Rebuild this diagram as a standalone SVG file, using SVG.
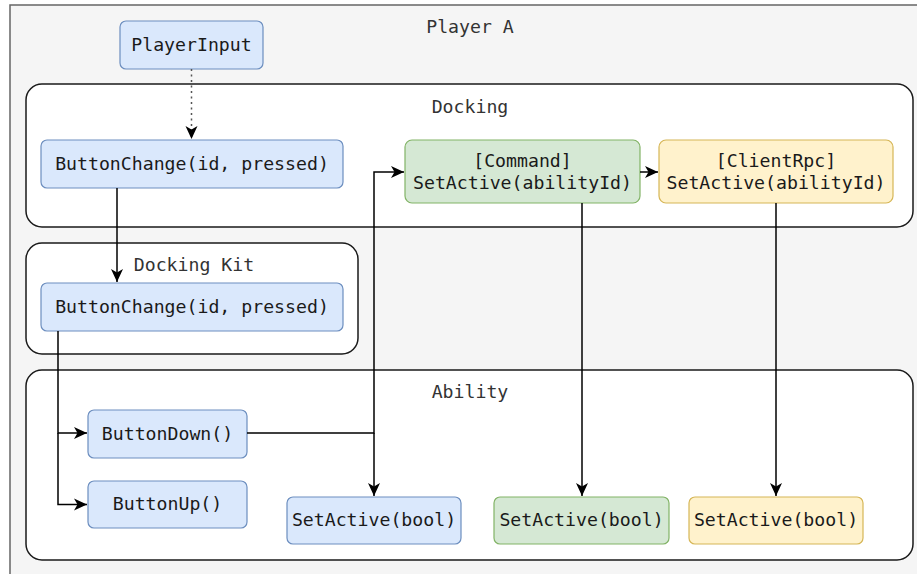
<svg xmlns="http://www.w3.org/2000/svg" width="917" height="574" viewBox="0 0 917 574">
  <style>
    .frame { fill: #f5f5f5; stroke: #666666; stroke-width: 1.5; }
    .group { fill: #ffffff; stroke: #1a1a1a; stroke-width: 1.5; }
    .blue { fill: #dae8fc; stroke: #6c8ebf; stroke-width: 1.2; }
    .green { fill: #d5e8d4; stroke: #82b366; stroke-width: 1.2; }
    .yellow { fill: #fff2cc; stroke: #d6b656; stroke-width: 1.2; }
    text { font-family: "DejaVu Sans Mono", "Liberation Mono", monospace; font-size: 18.2px; fill: #1a1a1a; text-anchor: middle; }
    .title { fill: #333333; }
    .edge { fill: none; stroke: #000000; stroke-width: 1.5; }
    .dotted { stroke: #555555; stroke-dasharray: 2 3.5; }
  </style>
  <defs>
    <marker id="arrow" markerUnits="userSpaceOnUse" markerWidth="16" markerHeight="14" viewBox="0 0 16 14" refX="13" refY="7" orient="auto">
      <path d="M0,1 L13,7 L0,13 L3.5,7 Z" fill="#000000"/>
    </marker>
  </defs>

  <!-- outer frame -->
  <g id="player-a">
    <rect class="frame" x="10" y="5" width="920" height="580"/>
    <text class="title" x="470" y="33">Player A</text>
  </g>

  <!-- containers -->
  <g id="docking">
    <rect class="group" x="26" y="84" width="887" height="143" rx="16"/>
    <text class="title" x="470" y="113">Docking</text>
  </g>
  <g id="docking-kit">
    <rect class="group" x="26" y="243" width="332" height="111" rx="16"/>
    <text class="title" x="194" y="271">Docking Kit</text>
  </g>
  <g id="ability">
    <rect class="group" x="26" y="370" width="887" height="190" rx="16"/>
    <text class="title" x="470" y="398">Ability</text>
  </g>

  <!-- nodes -->
  <g id="player-input">
    <rect class="blue" x="120" y="21" width="143" height="48" rx="6"/>
    <text x="191.5" y="51">PlayerInput</text>
  </g>
  <g id="docking-button-change">
    <rect class="blue" x="41" y="140" width="302" height="48" rx="6"/>
    <text x="192" y="170">ButtonChange(id, pressed)</text>
  </g>
  <g id="command-set-active">
    <rect class="green" x="405" y="140" width="235" height="63" rx="7"/>
    <text x="522.5" y="167">[Command]</text>
    <text x="522.5" y="189">SetActive(abilityId)</text>
  </g>
  <g id="clientrpc-set-active">
    <rect class="yellow" x="659" y="140" width="234" height="63" rx="7"/>
    <text x="776" y="167">[ClientRpc]</text>
    <text x="776" y="189">SetActive(abilityId)</text>
  </g>
  <g id="kit-button-change">
    <rect class="blue" x="41" y="283" width="302" height="48" rx="6"/>
    <text x="192" y="313">ButtonChange(id, pressed)</text>
  </g>
  <g id="button-down">
    <rect class="blue" x="88" y="410" width="159" height="48" rx="6"/>
    <text x="167.5" y="440">ButtonDown()</text>
  </g>
  <g id="button-up">
    <rect class="blue" x="88" y="481" width="159" height="47" rx="6"/>
    <text x="167.5" y="510">ButtonUp()</text>
  </g>
  <g id="ability-set-active">
    <rect class="blue" x="287" y="497" width="174" height="47" rx="6"/>
    <text x="374" y="526">SetActive(bool)</text>
  </g>
  <g id="ability-set-active-command">
    <rect class="green" x="494" y="497" width="175" height="47" rx="6"/>
    <text x="581.5" y="526">SetActive(bool)</text>
  </g>
  <g id="ability-set-active-rpc">
    <rect class="yellow" x="689" y="497" width="174" height="47" rx="6"/>
    <text x="776" y="526">SetActive(bool)</text>
  </g>

  <!-- connectors -->
  <g id="connectors">
    <path class="edge dotted" d="M191.5,69 V139" marker-end="url(#arrow)"/>
    <path class="edge" d="M117,188 V282" marker-end="url(#arrow)"/>
    <path class="edge" d="M58,331 V433 H87" marker-end="url(#arrow)"/>
    <path class="edge" d="M58,433 V504.5 H87" marker-end="url(#arrow)"/>
    <path class="edge" d="M247,433 H374 V172 H404" marker-end="url(#arrow)"/>
    <path class="edge" d="M374,433 V496" marker-end="url(#arrow)"/>
    <path class="edge" d="M640,172 H658" marker-end="url(#arrow)"/>
    <path class="edge" d="M582,203 V496" marker-end="url(#arrow)"/>
    <path class="edge" d="M776,203 V496" marker-end="url(#arrow)"/>
  </g>
</svg>
